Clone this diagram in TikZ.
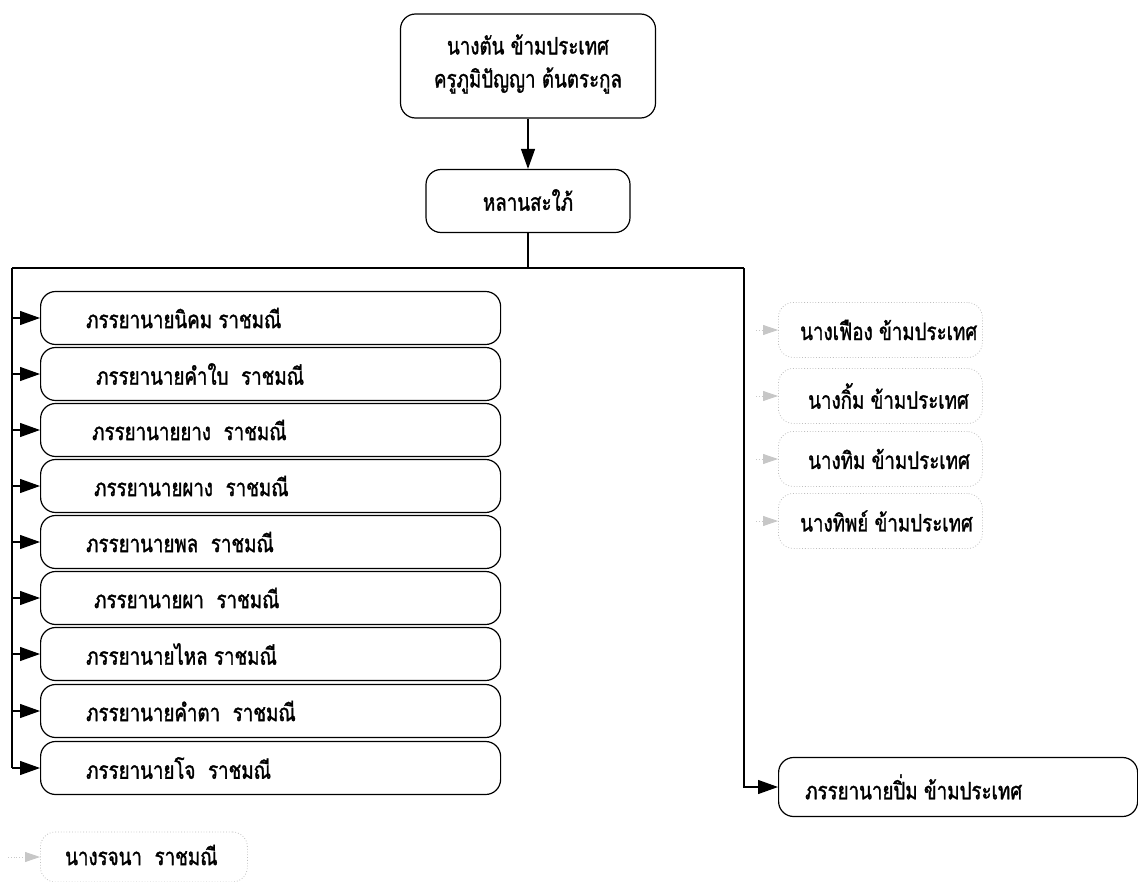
\documentclass[tikz,border=0pt]{standalone}
\usepackage{fontspec}
\newfontfamily\thaifont[Script=Thai,FakeStretch=0.78,FakeBold=1.3]{Loma}
\usetikzlibrary{arrows.meta}
\tikzset{
  line/.style={line width=1.2pt, black},
  arr/.style={line, -{Triangle[length=20pt,width=14pt]}},
  ghostarr/.style={line width=0.8pt, black!22, dotted, -{Triangle[length=15pt,width=10pt]}},
  rbox/.style={draw, line width=1.2pt, rounded corners=15pt, inner sep=0pt},
  gbox/.style={draw=black!25, dotted, line width=0.8pt, rounded corners=15pt, inner sep=0pt},
  txt/.style={font=\thaifont\fontsize{24}{30}\selectfont, inner sep=0pt, anchor=west},
  ctxt/.style={font=\thaifont\fontsize{24}{33}\selectfont, inner sep=0pt, align=center},
}
\begin{document}
\begin{tikzpicture}[x=1pt,y=-1pt]
\useasboundingbox (0,0) rectangle (1138,881);
% top boxes
\node[rbox, minimum width=255pt, minimum height=104pt] (top) at (528,66) {};
\node[ctxt] (toptxt) at (528,64) {นางตัน ข้ามประเทศ\\ครูภูมิปัญญา ต้นตระกูล};
\node[rbox, minimum width=204pt, minimum height=63pt] (mid) at (528,201) {};
\node[ctxt] (midtxt) at (528,200) {หลานสะใภ้};
\draw[arr] (top.south) -- (mid.north);
% junction
\coordinate (J) at (528,268);
\coordinate (JL) at (12,268);
\coordinate (JR) at (744,268);
\draw[line] (mid.south) -- (J);
\draw[line] (JL) -- (JR);
% left boxes
\foreach \i/\y/\tx/\t in {
  1/318/86/{ภรรยานายนิคม ราชมณี},
  2/374/96/{ภรรยานายคำใบ\ \ ราชมณี},
  3/430/92/{ภรรยานายยาง\ \ ราชมณี},
  4/486/94/{ภรรยานายผาง\ \ ราชมณี},
  5/542/86/{ภรรยานายพล\ \ ราชมณี},
  6/598/94/{ภรรยานายผา\ \ ราชมณี},
  7/654/86/{ภรรยานายไหล ราชมณี},
  8/711/86/{ภรรยานายคำตา\ \ ราชมณี},
  9/768/86/{ภรรยานายโจ\ \ ราชมณี}}{
  \node[rbox, minimum width=460pt, minimum height=53pt, anchor=west] (w\i) at (40,\y) {};
  \node[txt] (wt\i) at (\tx,\y) {\t};
  \coordinate (L\i) at (12,\y);
}
\draw[line] (JL) -- (L9);
\foreach \i in {1,...,9}{\draw[arr] (L\i) -- (w\i.west);}
% right ghost boxes
\foreach \i/\y/\tx/\t in {
  1/330/800/{นางเฟือง ข้ามประเทศ},
  2/396/808/{นางกิ้ม ข้ามประเทศ},
  3/459/808/{นางทิม ข้ามประเทศ},
  4/521/800/{นางทิพย์ ข้ามประเทศ}}{
  \node[gbox, minimum width=204pt, minimum height=55pt, anchor=west] (r\i) at (778,\y) {};
  \node[txt] (rt\i) at (\tx,\y) {\t};
  \coordinate (G\i) at (756,\y);
  \draw[ghostarr] (G\i) -- (r\i.west);
}
% right main box
\node[rbox, minimum width=359pt, minimum height=59pt, anchor=west] (rp) at (778,787) {};
\node[txt] (rpt) at (805,787) {ภรรยานายปิ่ม ข้ามประเทศ};
\draw[arr] (JR) |- (rp.west);
% bottom ghost box
\node[gbox, minimum width=207pt, minimum height=50pt, anchor=west] (rj) at (40,857) {};
\node[txt] (rjt) at (65,855) {นางรจนา\ \ ราชมณี};
\coordinate (G5) at (8,857);
\draw[ghostarr] (G5) -- (rj.west);
\end{tikzpicture}
\end{document}
